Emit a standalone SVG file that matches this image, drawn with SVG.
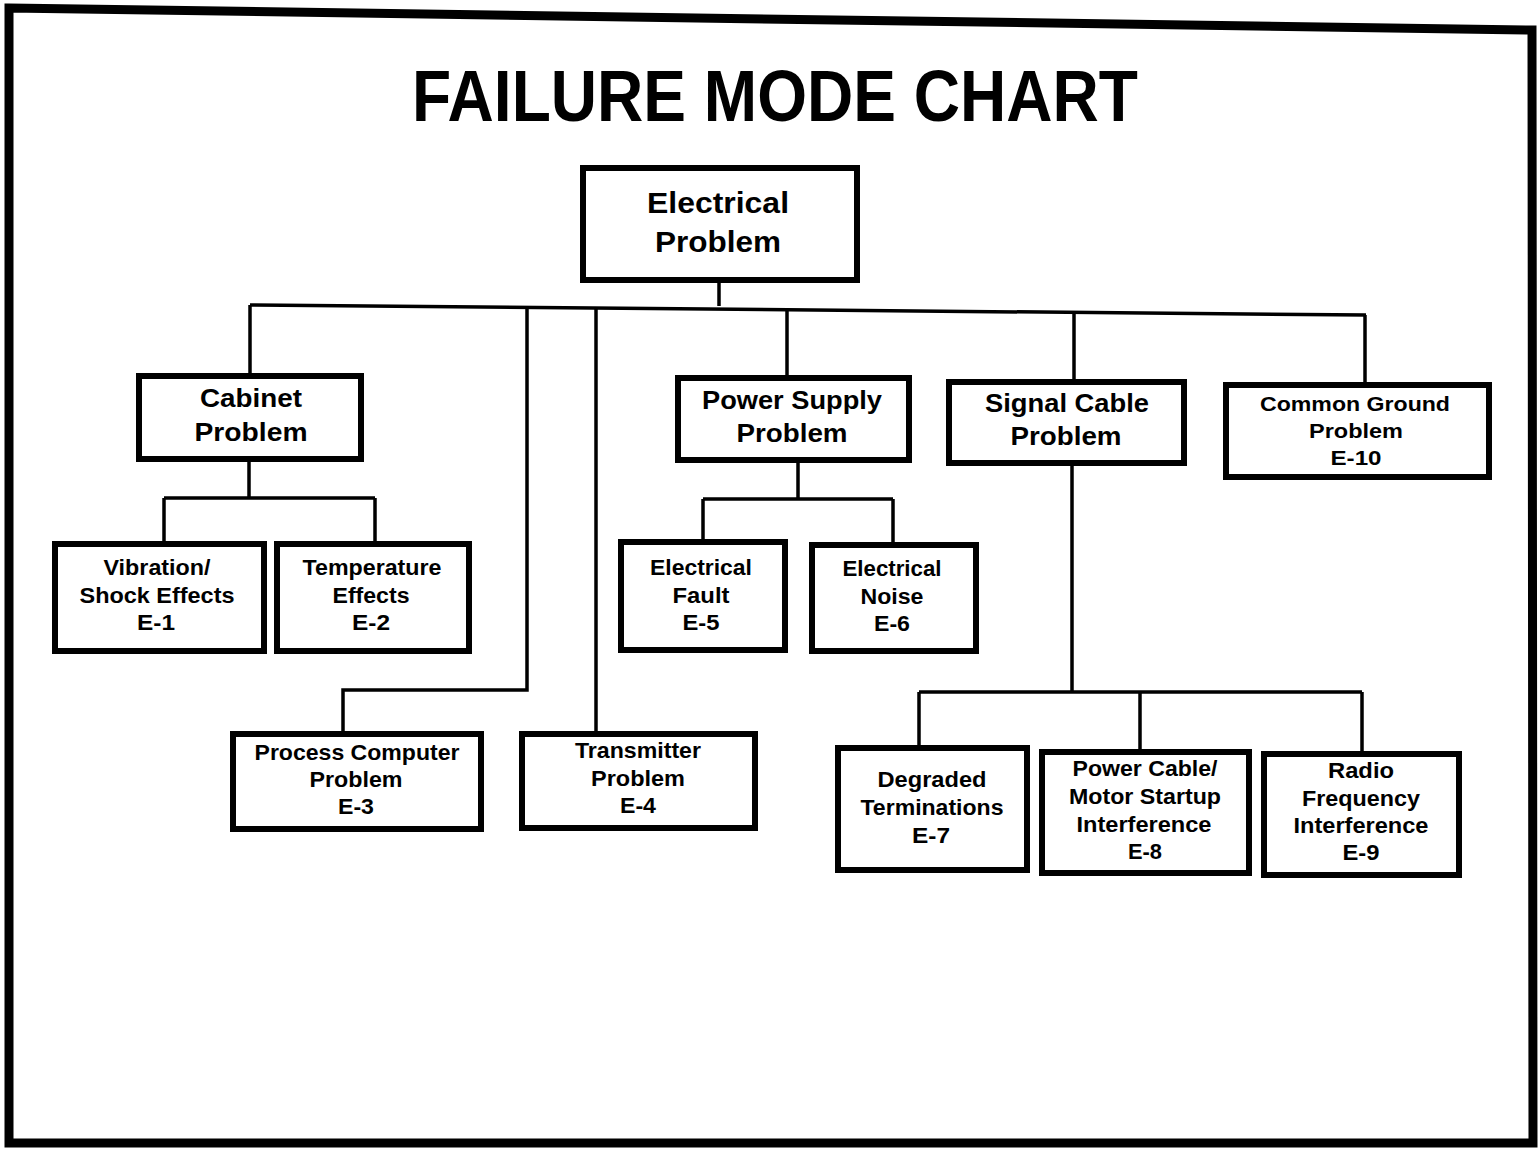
<svg xmlns="http://www.w3.org/2000/svg" width="1540" height="1151" viewBox="0 0 1540 1151">
<style>
.bx{fill:#fff;stroke:#000;stroke-width:6}
.c{fill:none;stroke:#000;stroke-width:3.5}
text{font-family:"Liberation Sans",Arial,sans-serif;font-weight:bold;fill:#000;text-anchor:middle}
.t30{font-size:30px}
.t26{font-size:26px}
.t22{font-size:22px}
.t20{font-size:21px}
</style>
<rect width="1540" height="1151" fill="#fff"/>
<path d="M9,8 L1532,30 L1533,1143 L9,1143 Z" fill="none" stroke="#000" stroke-width="9"/>
<text x="775" y="121" style="font-size:72px" textLength="726" lengthAdjust="spacingAndGlyphs">FAILURE MODE CHART</text>
<g id="connectors">
<path class="c" d="M719,281 V306"/>
<path class="c" d="M250,305 L1366,315"/>
<path class="c" d="M250,305 V375"/>
<path class="c" d="M527,307 V690 H343 V733"/>
<path class="c" d="M596,308 V733"/>
<path class="c" d="M787,310 V377"/>
<path class="c" d="M1074,313 V381"/>
<path class="c" d="M1365,315 V384"/>
<path class="c" d="M249,460 V498 M164,498 H375 M164,498 V543 M375,498 V543"/>
<path class="c" d="M798,461 V499 M703,499 H893 M703,499 V541 M893,499 V544"/>
<path class="c" d="M1072,464 V692 M919,692 H1362 M919,692 V747 M1140,692 V751 M1362,692 V753"/>
</g>
<g id="n-electrical">
<rect class="bx" x="583" y="168" width="274" height="112"/>
<text class="t30" x="718" y="213" textLength="142" lengthAdjust="spacingAndGlyphs">Electrical</text>
<text class="t30" x="718" y="252" textLength="126" lengthAdjust="spacingAndGlyphs">Problem</text>
</g>
<g id="n-cabinet">
<rect class="bx" x="139" y="376" width="222" height="83"/>
<text class="t26" x="251" y="407" textLength="102" lengthAdjust="spacingAndGlyphs">Cabinet</text>
<text class="t26" x="251" y="441" textLength="113" lengthAdjust="spacingAndGlyphs">Problem</text>
</g>
<g id="n-power">
<rect class="bx" x="678" y="378" width="231" height="82"/>
<text class="t26" x="792" y="409" textLength="180" lengthAdjust="spacingAndGlyphs">Power Supply</text>
<text class="t26" x="792" y="442" textLength="111" lengthAdjust="spacingAndGlyphs">Problem</text>
</g>
<g id="n-signal">
<rect class="bx" x="949" y="382" width="235" height="81"/>
<text class="t26" x="1067" y="412" textLength="164" lengthAdjust="spacingAndGlyphs">Signal Cable</text>
<text class="t26" x="1066" y="445" textLength="111" lengthAdjust="spacingAndGlyphs">Problem</text>
</g>
<g id="n-ground">
<rect class="bx" x="1226" y="385" width="263" height="92"/>
<text class="t20" x="1355" y="411" textLength="190" lengthAdjust="spacingAndGlyphs">Common Ground</text>
<text class="t20" x="1356" y="438" textLength="94" lengthAdjust="spacingAndGlyphs">Problem</text>
<text class="t20" x="1356" y="465" textLength="51" lengthAdjust="spacingAndGlyphs">E-10</text>
</g>
<g id="n-e1">
<rect class="bx" x="55" y="544" width="209" height="107"/>
<text class="t22" x="157" y="575" textLength="107" lengthAdjust="spacingAndGlyphs">Vibration/</text>
<text class="t22" x="157" y="603" textLength="155" lengthAdjust="spacingAndGlyphs">Shock Effects</text>
<text class="t22" x="156" y="630" textLength="38" lengthAdjust="spacingAndGlyphs">E-1</text>
</g>
<g id="n-e2">
<rect class="bx" x="277" y="544" width="192" height="107"/>
<text class="t22" x="372" y="575" textLength="139" lengthAdjust="spacingAndGlyphs">Temperature</text>
<text class="t22" x="371" y="603" textLength="77" lengthAdjust="spacingAndGlyphs">Effects</text>
<text class="t22" x="371" y="630" textLength="38" lengthAdjust="spacingAndGlyphs">E-2</text>
</g>
<g id="n-e5">
<rect class="bx" x="621" y="542" width="164" height="108"/>
<text class="t22" x="701" y="575" textLength="102" lengthAdjust="spacingAndGlyphs">Electrical</text>
<text class="t22" x="701" y="603" textLength="57" lengthAdjust="spacingAndGlyphs">Fault</text>
<text class="t22" x="701" y="630" textLength="37" lengthAdjust="spacingAndGlyphs">E-5</text>
</g>
<g id="n-e6">
<rect class="bx" x="812" y="545" width="164" height="106"/>
<text class="t22" x="892" y="576" textLength="99" lengthAdjust="spacingAndGlyphs">Electrical</text>
<text class="t22" x="892" y="604" textLength="63" lengthAdjust="spacingAndGlyphs">Noise</text>
<text class="t22" x="892" y="631" textLength="36" lengthAdjust="spacingAndGlyphs">E-6</text>
</g>
<g id="n-e3">
<rect class="bx" x="233" y="734" width="248" height="95"/>
<text class="t22" x="357" y="760" textLength="205" lengthAdjust="spacingAndGlyphs">Process Computer</text>
<text class="t22" x="356" y="787" textLength="93" lengthAdjust="spacingAndGlyphs">Problem</text>
<text class="t22" x="356" y="814" textLength="36" lengthAdjust="spacingAndGlyphs">E-3</text>
</g>
<g id="n-e4">
<rect class="bx" x="522" y="734" width="233" height="94"/>
<text class="t22" x="638" y="758" textLength="126" lengthAdjust="spacingAndGlyphs">Transmitter</text>
<text class="t22" x="638" y="786" textLength="94" lengthAdjust="spacingAndGlyphs">Problem</text>
<text class="t22" x="638" y="813" textLength="36" lengthAdjust="spacingAndGlyphs">E-4</text>
</g>
<g id="n-e7">
<rect class="bx" x="838" y="748" width="189" height="122"/>
<text class="t22" x="932" y="787" textLength="109" lengthAdjust="spacingAndGlyphs">Degraded</text>
<text class="t22" x="932" y="815" textLength="143" lengthAdjust="spacingAndGlyphs">Terminations</text>
<text class="t22" x="931" y="843" textLength="38" lengthAdjust="spacingAndGlyphs">E-7</text>
</g>
<g id="n-e8">
<rect class="bx" x="1042" y="752" width="207" height="121"/>
<text class="t22" x="1145" y="776" textLength="145" lengthAdjust="spacingAndGlyphs">Power Cable/</text>
<text class="t22" x="1145" y="804" textLength="152" lengthAdjust="spacingAndGlyphs">Motor Startup</text>
<text class="t22" x="1144" y="832" textLength="135" lengthAdjust="spacingAndGlyphs">Interference</text>
<text class="t22" x="1145" y="859" textLength="34" lengthAdjust="spacingAndGlyphs">E-8</text>
</g>
<g id="n-e9">
<rect class="bx" x="1264" y="754" width="195" height="121"/>
<text class="t22" x="1361" y="778" textLength="66" lengthAdjust="spacingAndGlyphs">Radio</text>
<text class="t22" x="1361" y="806" textLength="118" lengthAdjust="spacingAndGlyphs">Frequency</text>
<text class="t22" x="1361" y="833" textLength="135" lengthAdjust="spacingAndGlyphs">Interference</text>
<text class="t22" x="1361" y="860" textLength="37" lengthAdjust="spacingAndGlyphs">E-9</text>
</g>
</svg>
